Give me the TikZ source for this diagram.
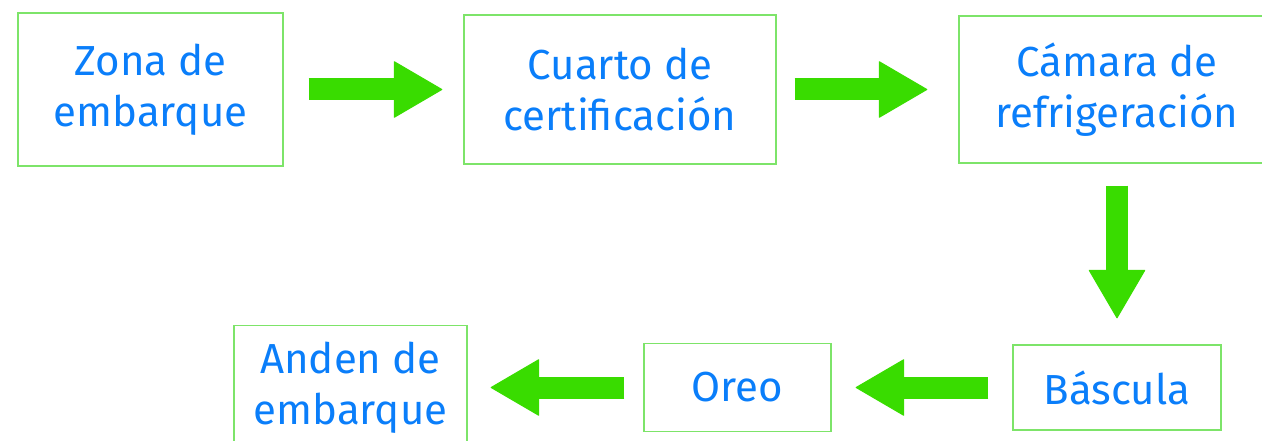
\documentclass[tikz,border=0pt]{standalone}
\usepackage{fontspec}
\setmainfont{Fira Sans}
\usetikzlibrary{arrows.meta}
\definecolor{boxgreen}{RGB}{125,228,105}
\definecolor{arrowgreen}{RGB}{57,220,0}
\definecolor{textblue}{RGB}{10,126,250}
\tikzset{
  stage/.style={draw=boxgreen, line width=1.3pt, text=textblue, align=center,
    inner sep=0pt, font=\fontsize{42}{51}\selectfont},
  flow/.style={arrowgreen, line width=22pt,
    -{Triangle[length=49pt,width=57pt,line width=1pt,round]}}
}
\begin{document}
\begin{tikzpicture}[x=1pt,y=-1pt]
	\useasboundingbox (0,0) rectangle (1262,441);
	\node[stage, minimum width=265pt, minimum height=153pt] (zona) at (150.5,89.5) {Zona de\\embarque};
	\node[stage, minimum width=312pt, minimum height=149pt] (cuarto) at (620,89.5) {Cuarto de\\certificación};
	\node[stage, minimum width=316pt, minimum height=147pt] (camara) at (1117,89.5) {Cámara de\\refrigeración};
	\node[stage, minimum width=208pt, minimum height=85pt] (bascula) at (1117,387.5) {Báscula};
	\node[stage, minimum width=187pt, minimum height=88pt] (oreo) at (737.5,387.5) {Oreo};
	\node[stage, minimum width=233pt, minimum height=124pt] (anden) at (350.5,387.5) {Anden de\\embarque};
	\draw[flow, shorten <=25pt, shorten >=21pt] (zona.east) -- (cuarto.west);
	\draw[flow, shorten <=18pt, shorten >=31pt] (cuarto.east) -- (camara.west);
	\draw[flow, shorten <=22pt, shorten >=26pt] (camara.south) -- (bascula.north);
	\draw[flow, shorten <=24pt, shorten >=24pt] (bascula.west) -- (oreo.east);
	\draw[flow, shorten <=19pt, shorten >=23pt] (oreo.west) -- (anden.east);
\end{tikzpicture}
\end{document}
